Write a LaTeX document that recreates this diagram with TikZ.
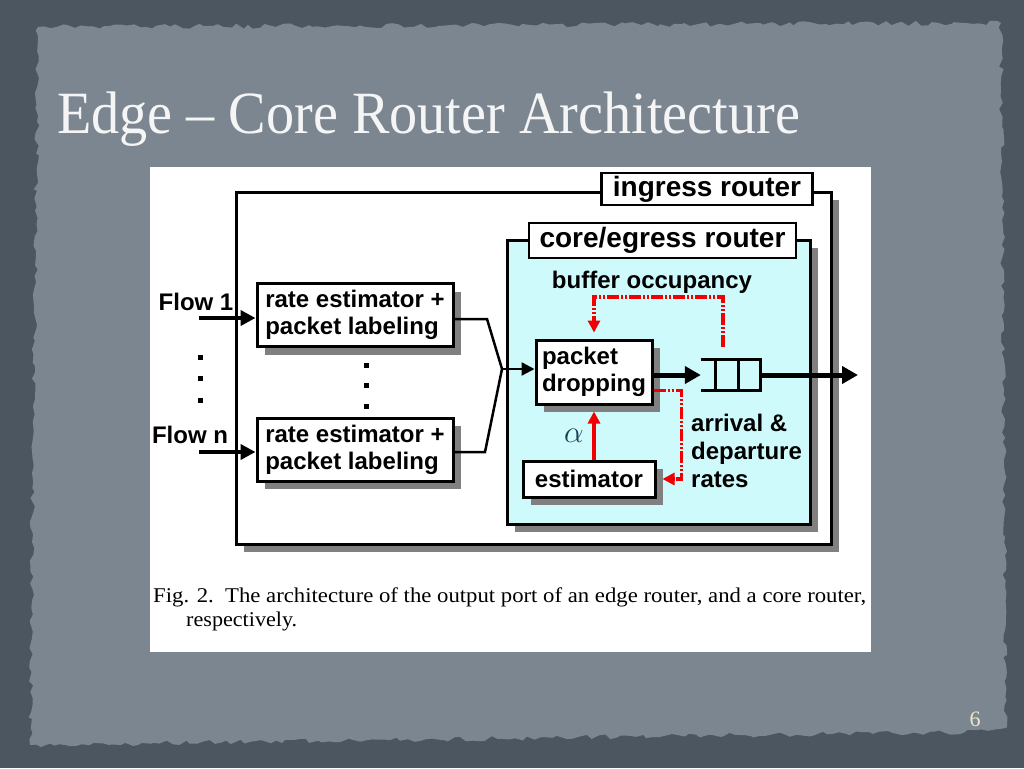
\documentclass[tikz,border=0pt]{standalone}
\usepackage{fontspec}
\setmainfont{Liberation Serif}
\newfontfamily\arialfont{Liberation Sans}
\usetikzlibrary{arrows.meta,decorations.pathmorphing,shadows,calc}
\definecolor{bgdark}{RGB}{76,86,97}
\definecolor{bgpanel}{RGB}{123,134,145}
\definecolor{corefill}{RGB}{206,250,252}
\definecolor{shadowgray}{RGB}{128,128,128}
\definecolor{redline}{RGB}{240,0,0}
\definecolor{alphacol}{RGB}{30,60,80}
\definecolor{titlecol}{RGB}{245,245,245}
\definecolor{pagecol}{RGB}{236,232,200}
\tikzset{
  lbl/.style={font=\arialfont\bfseries\fontsize{24}{27}\selectfont, text=black, inner sep=0pt},
  shad/.style={drop shadow={shadow xshift=8pt, shadow yshift=-8pt, fill=shadowgray, opacity=1}},
  blk/.style={lbl, draw=black, line width=3pt, fill=white, align=left, shad},
  tag/.style={draw=black, line width=2.5pt, fill=white, inner sep=0pt, text=black,
              font=\arialfont\bfseries\fontsize{28}{32}\selectfont},
  frame/.style={draw=black, line width=3pt, inner sep=0pt, shad},
  flowarr/.style={line width=4pt, -{Triangle[length=15pt,width=15pt]}},
  bigarr/.style={line width=5pt, -{Triangle[length=16pt,width=17pt]}},
  wire/.style={line width=2.5pt},
  reddash/.style={draw=redline, line width=3.5pt,
     dash pattern=on 12pt off 2pt on 2pt off 2pt on 2pt off 2pt},
  redtip/.style={-{Triangle[length=12pt,width=12pt]}, shorten >=6pt},
  dotsq/.style={fill=black, minimum size=5pt, inner sep=0pt},
  captxt/.style={anchor=west, inner sep=0pt, font=\fontsize{21}{24}\selectfont},
}
\begin{document}
\begin{tikzpicture}[x=1pt,y=-1pt]
\useasboundingbox (0,0) rectangle (1024,768);
% background
\fill[bgdark] (0,0) rectangle (1024,768);
\pgfmathsetseed{7}
\fill[bgpanel, decorate, decoration={random steps, segment length=6pt, amplitude=2.5pt}]
  (38,27) -- (1001,23) -- (1006,728) -- (965,732) -- (30,745) -- cycle;
% title
\node[anchor=base west, inner sep=0pt, text=titlecol,
      font=\fontsize{60}{64}\selectfont] (title) at (57,133)
  {\resizebox{743pt}{\height}{Edge – Core Router Architecture}};
\node[inner sep=0pt, text=pagecol, font=\fontsize{22}{24}\selectfont] (page) at (975,719) {6};
% figure area
\fill[white] (150,167) rectangle (871,652);
% ingress router
\node[frame, fill=white, minimum width=595pt, minimum height=352pt] (ingress) at (533.5,368) {};
\node[tag, minimum width=211pt, minimum height=32pt] (ingtag) at (707,189) {ingress router};
% core router
\node[frame, fill=corefill, minimum width=303pt, minimum height=284pt] (core) at (658.5,382) {};
\node[tag, minimum width=267pt, minimum height=35pt] (coretag) at (662.5,240.5) {core/egress router};
% blocks
\node[blk, minimum width=196pt, minimum height=63pt] (rate1) at (355,315)
  {rate estimator +\\packet labeling};
\node[blk, minimum width=196pt, minimum height=63pt] (raten) at (355,449.5)
  {rate estimator +\\packet labeling};
\node[blk, minimum width=116pt, minimum height=64pt] (pd) at (594,372)
  {packet\\dropping};
\node[blk, minimum width=132pt, minimum height=36pt] (est) at (589,479) {estimator};
% flows
\node[lbl] (flow1) at (196,302) {Flow 1};
\node[lbl] (flown) at (190,435) {Flow n};
\coordinate (f1s) at (199,318);
\coordinate (fns) at (199,452);
\draw[flowarr] (f1s) -- (f1s -| rate1.west);
\draw[flowarr] (fns) -- (fns -| raten.west);
% dots
\node[dotsq] (dl1) at (200,357) {};
\node[dotsq] (dl2) at (200,378) {};
\node[dotsq] (dl3) at (200,400) {};
\node[dotsq] (dm1) at (366,365) {};
\node[dotsq] (dm2) at (366,385) {};
\node[dotsq] (dm3) at (366,406) {};
% merge
\coordinate (m) at (502,369);
\draw[wire] (rate1.east |- 0,319) -- (487,319) -- (m) -- (485,452) -- (raten.east |- 0,452);
\draw[line width=2.5pt, -{Triangle[length=13pt,width=13pt]}] (m) -- (m -| pd.west);
% queue
\node[inner sep=0pt, minimum width=59pt, minimum height=30pt] (q) at (730.5,375) {};
\draw[line width=3pt] (q.north west) -- (q.north east) -- (q.south east) -- (q.south west);
\draw[line width=3pt] ($(q.north west)+(15,0)$) -- ($(q.south west)+(15,0)$);
\draw[line width=3pt] ($(q.north west)+(38,0)$) -- ($(q.south west)+(38,0)$);
\draw[bigarr] (q.west -| pd.east) -- (q.west);
\coordinate (out) at (858,375);
\draw[bigarr] (q.east) -- (out);
% buffer occupancy feedback
\node[lbl] (bocc) at (652,282) {buffer occupancy};
\coordinate (bo) at (723,347);
\coordinate (bturn) at (723,297);
\draw[reddash, redtip, redline] (bo) -- (bturn) -| (pd.north);
% arrival & departure rates
\draw[reddash, redtip, redline] ($(pd.south east)+(0,-15)$) -- ++(28,0) |- (est.east);
\node[lbl, anchor=west, align=left, font=\arialfont\bfseries\fontsize{24}{28}\selectfont]
  (rates) at (691,451) {arrival \&\\departure\\rates};
% alpha
\draw[draw=redline, line width=3.5pt, redtip, redline] (pd.south |- est.north) -- (pd.south);
\node[inner sep=0pt, text=alphacol, font=\fontsize{24}{26}\selectfont] (alpha) at (574,436)
  {\scalebox{1.25}{$\alpha$}};
% caption
\node[captxt] (cap1) at (153,597)
  {\resizebox{713pt}{\height}{Fig. 2.\ \ The architecture of the output port of an edge router, and a core router,}};
\node[captxt] (cap2) at (186,621) {\resizebox{111pt}{\height}{respectively.}};
\end{tikzpicture}
\end{document}
